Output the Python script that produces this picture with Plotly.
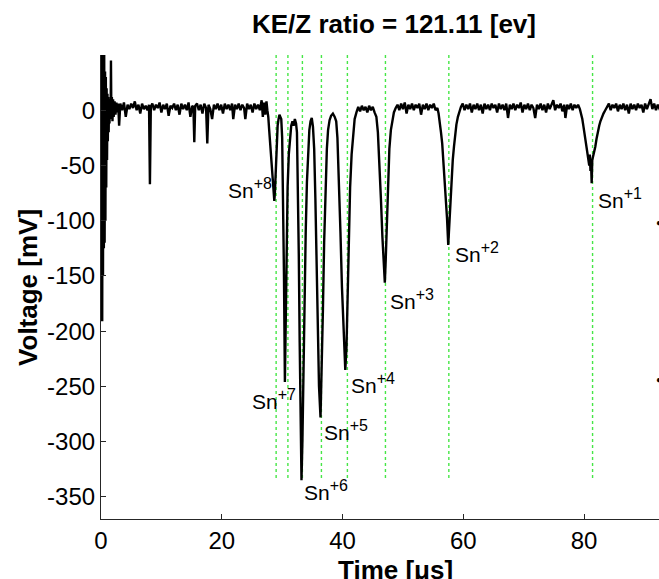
import plotly.graph_objects as go

# ---------------- data ----------------
trace_t = [
    0.00, 0.05, 0.10, 0.15, 0.20, 0.27, 0.33, 0.40, 0.47, 0.53, 0.60, 0.67, 0.73, 0.80, 0.87,
    0.93, 1.00, 1.07, 1.13, 1.20, 1.27, 1.33, 1.40, 1.50, 1.60, 1.65, 1.72, 1.80, 1.90, 2.00,
    2.10, 2.25, 2.40, 2.55, 2.70, 2.85,
    3.0, 3.2, 3.5, 3.8, 4.1, 4.4, 4.7, 5.0, 5.3, 5.6, 5.9, 6.2, 6.5, 6.8, 7.1, 7.4, 7.7, 7.95,
    8.1, 8.25, 8.5, 8.8, 9.1, 9.4, 9.7, 10.0, 10.3, 10.6, 10.9, 11.2, 11.5, 11.8, 12.1, 12.4,
    12.7, 13.0, 13.3, 13.6, 13.9, 14.2, 14.5, 14.8, 15.1, 15.3, 15.45, 15.6, 15.9, 16.2, 16.5,
    16.8, 17.1, 17.4, 17.6, 17.8, 18.1, 18.4, 18.7, 19.0, 19.3, 19.6, 19.9, 20.2, 20.5, 20.8,
    21.1, 21.4, 21.7, 21.9, 22.2, 22.5, 22.8, 23.1, 23.4, 23.7, 23.9, 24.2, 24.5, 24.8, 25.1,
    25.4, 25.7, 26.0, 26.3, 26.6, 26.8, 27.0, 27.2, 27.4, 27.55,
    27.7, 27.85, 28.0, 28.15, 28.3, 28.45, 28.6, 28.7, 28.8, 28.9, 29.0, 29.1, 29.25, 29.4,
    29.55, 29.7,
    29.85, 30.0, 30.15, 30.3, 30.45, 30.6, 30.75, 30.9, 31.1, 31.3, 31.5, 31.7, 31.9, 32.1,
    32.3, 32.45,
    32.6, 32.75, 32.9, 33.05, 33.2, 33.35, 33.5, 33.7, 33.9, 34.1, 34.3, 34.5, 34.7, 34.9,
    35.1, 35.3, 35.5, 35.7, 35.9, 36.1, 36.35, 36.55, 36.75, 36.95, 37.15, 37.4, 37.6, 37.85,
    38.1, 38.4, 38.7, 38.95,
    39.15, 39.4, 39.65, 39.9, 40.15, 40.45, 40.65, 40.85, 41.05, 41.25, 41.5, 41.75, 42.0,
    42.3, 42.6, 42.9, 43.2, 43.5, 43.8, 44.1, 44.4, 44.7, 45.0, 45.3, 45.6,
    45.85, 46.1, 46.35, 46.6, 46.85, 47.0, 47.15, 47.35, 47.55, 47.75, 48.0, 48.25, 48.5, 48.8,
    49.1, 49.4, 49.7, 50.0, 50.3, 50.6, 50.9, 51.2, 51.5, 51.8, 52.1, 52.4, 52.7, 53.0, 53.3,
    53.6, 53.9, 54.2, 54.5, 54.8, 55.1, 55.4, 55.7,
    55.9, 56.1, 56.3, 56.5, 56.7, 56.9, 57.1, 57.3, 57.5, 57.65, 57.85, 58.05, 58.25, 58.45,
    58.65, 58.85, 59.1, 59.35, 59.6,
    59.9, 60.2, 60.5, 60.8, 61.1, 61.4, 61.7, 62.0, 62.3, 62.6, 62.9, 63.2, 63.5, 63.8, 64.1,
    64.4, 64.7, 65.0, 65.3, 65.6, 65.9, 66.2, 66.5, 66.8, 67.1, 67.4, 67.7, 68.0, 68.3, 68.6,
    68.9, 69.2, 69.5, 69.8, 70.1, 70.4, 70.7, 71.0, 71.3, 71.6, 71.9, 72.2, 72.5, 72.8, 73.1,
    73.4, 73.7, 74.0, 74.3, 74.6, 74.9, 75.2, 75.5, 75.8, 76.1, 76.4, 76.7, 76.9, 77.2, 77.5,
    77.8, 78.1, 78.4, 78.7, 79.0, 79.3,
    79.5, 79.7, 79.9, 80.1, 80.3, 80.5, 80.7, 80.85, 80.95, 81.05, 81.15, 81.25, 81.35, 81.5,
    81.65, 81.85, 82.05, 82.3, 82.5, 82.7, 82.95, 83.2, 83.5, 83.8,
    84.1, 84.4, 84.7, 85.0, 85.3, 85.6, 85.9, 86.2, 86.5, 86.8, 87.1, 87.4, 87.7, 88.0, 88.3,
    88.6, 88.9, 89.2, 89.5, 89.8, 90.1, 90.4, 90.7, 91.0, 91.3, 91.6, 91.9, 92.2, 92.5, 93.0,
]
trace_mv = [
    0, 48, -80, 50, -191, 50, -150, 45, -125, 50, -120, 35, -100, 30, -70,
    20, -45, 15, -28, 12, -20, 10, -12, 6, -5, 45, -8, 12, -10, 10,
    -6, 8, -4, 7, -2, 6,
    -14, 6, 0, 7, -6, 5, 1, 6, 2, 8, 0, 5, -3, 6, 1, 4, 0, 5,
    -67, 3, 6, 0, 5, 2, 7, -2, 5, 1, 6, -5, 4, 2, 6, 0,
    5, -4, 6, 1, 5, 0, 7, -6, 4, 3, -29, 4, 6, 0, 5,
    -3, 6, 2, -30, 5, 1, -8, 5, 1, 6, 0, 5, -3, 6, 1,
    5, 0, 6, -8, 5, 1, 6, 0, 5, 2, -8, 6, 1, 5, -2,
    6, 1, 5, 0, 9, -6, 7, -4, 8, 0,
    -6, -18, -30, -45, -58, -70, -78, -82, -74, -58, -40, -25, -14, -8,
    -4, -6,
    -8, -25, -70, -150, -246, -190, -120, -70, -40, -22, -14, -10, -14, -8,
    -12, -20,
    -60, -130, -210, -280, -335, -300, -240, -170, -110, -65, -35, -18, -10, -7,
    -15, -35, -80, -140, -200, -250, -278, -240, -180, -120, -70, -35, -18, -9,
    -5, -3, -6, -10,
    -25, -60, -110, -160, -200, -235, -215, -160, -110, -70, -40, -20, -8,
    -2, 3, -1, 4, 0, 3, -2, 4, 0, 3, -2, -6,
    -20, -45, -80, -115, -145, -156, -135, -95, -60, -35, -18, -8, -2, 2,
    5, 0, 6, 1, 7, -3, 5, 1, 6, 0, 5, 2, 6, -4, 5,
    1, 6, 0, 5, 2, 6, 0, 2,
    -3, -10, -20, -30, -45, -60, -78, -98, -122, -105, -80, -60, -45, -33,
    -22, -13, -6, -1, 3,
    6, 0, 5, 1, 6, -2, 5, 1, 6, 0, 5, -3, 6, 1, 5,
    0, 6, 2, 5, -2, 6, 1, 5, 0, 6, -7, 5, 1, 6, 0,
    5, 2, 7, -2, 5, 1, 6, 0, 5, 2, -7, 5, 1, 6, 0,
    5, -2, 6, 1, 5, 9, 0, 5, 2, 6, -1, 5, -7, 5, 1,
    6, 0, 5, 2, 5, 1,
    -3, -8, -15, -22, -28, -35, -42, -50, -40, -55, -48, -66, -45, -42,
    -38, -33, -26, -18, -14, -10, -6, -3, 0, 3,
    6, 0, 5, 2, 6, -1, 5, 1, 6, 0, 5, -3, 6, 1, 5,
    0, 6, 2, 5, -2, 6, 1, 5, 10, 1, 6, 0, 5, 1, 4,
]

# charge-state marker lines (time in microseconds) and labels
ion_t = [29.0, 30.95, 33.35, 36.5, 40.8, 47.1, 57.6, 81.4]
ion_charge = ["+8", "+7", "+6", "+5", "+4", "+3", "+2", "+1"]
label_x = [20.75, 24.7, 33.3, 36.65, 41.1, 47.55, 58.3, 82.0]
label_y = [-71, -262, -344, -290, -247, -171, -129, -80]
marker_top, marker_bottom = 50, -335

x_ticks = [0, 20, 40, 60, 80]
y_ticks = [0, -50, -100, -150, -200, -250, -300, -350]
x_range = [0, 92.4]
y_range = [-370, 50]

title_text = "KE/Z ratio = 121.11 [ev]"
x_title = "Time [\u03bcs]"
y_title = "Voltage [mV]"

FONT = "Liberation Sans, Arial, Helvetica, sans-serif"

fig = go.Figure()

# green dotted marker lines
gx, gy = [], []
for t in ion_t:
    gx += [t, t, None]
    gy += [marker_top, marker_bottom, None]
fig.add_trace(go.Scatter(x=gx, y=gy, mode="lines",
                         line=dict(color="rgb(70,230,70)", width=1.4, dash="dot"),
                         hoverinfo="skip", showlegend=False))

fig.add_trace(go.Scatter(x=trace_t, y=trace_mv, mode="lines",
                         line=dict(color="black", width=2.4),
                         showlegend=False))

for lx, ly, q in zip(label_x, label_y, ion_charge):
    fig.add_annotation(x=lx, y=ly, xref="x", yref="y",
                       text="Sn<sup><span style='font-size:16px'>%s</span></sup>" % q,
                       showarrow=False, xanchor="left", yanchor="middle",
                       font=dict(family=FONT, size=21, color="black"))

# title and axis titles as annotations (axes centre lies beyond the visible window)
fig.add_annotation(x=0.5254, y=1.066, xref="paper", yref="paper", text="<b>%s</b>" % title_text,
                   showarrow=False, xanchor="center", yanchor="middle",
                   font=dict(family=FONT, size=26, color="black"))
fig.add_annotation(x=0.527, y=-0.11, xref="paper", yref="paper", text="<b>%s</b>" % x_title,
                   showarrow=False, xanchor="center", yanchor="middle",
                   font=dict(family=FONT, size=26, color="black"))
fig.add_annotation(x=-0.131, y=0.5, xref="paper", yref="paper", text="<b>%s</b>" % y_title,
                   showarrow=False, xanchor="center", yanchor="middle", textangle=-90,
                   font=dict(family=FONT, size=26, color="black"))

# partially visible marks at the right edge
for yy in [-102, -244]:
    fig.add_annotation(x=1.0, y=yy, xref="paper", yref="y", text="\u25cf", showarrow=False,
                       xanchor="center", yanchor="middle",
                       font=dict(family=FONT, size=10, color="black"))

axis_common = dict(showgrid=False, zeroline=False, showline=True, linecolor="#262626",
                   linewidth=1.2, ticks="inside", ticklen=5, tickwidth=1, tickcolor="#262626",
                   tickfont=dict(family=FONT, size=24, color="black"), mirror=False)

fig.update_xaxes(range=x_range, tickvals=x_ticks, ticktext=[str(v) for v in x_ticks],
                 **axis_common)
fig.update_yaxes(range=y_range, tickvals=y_ticks, ticktext=[str(v) for v in y_ticks],
                 **axis_common)

fig.update_layout(width=659, height=579, paper_bgcolor="white", plot_bgcolor="white",
                  margin=dict(l=101, r=0, t=55, b=60), showlegend=False)

fig.write_html("out.html", config={"displayModeBar": False})
